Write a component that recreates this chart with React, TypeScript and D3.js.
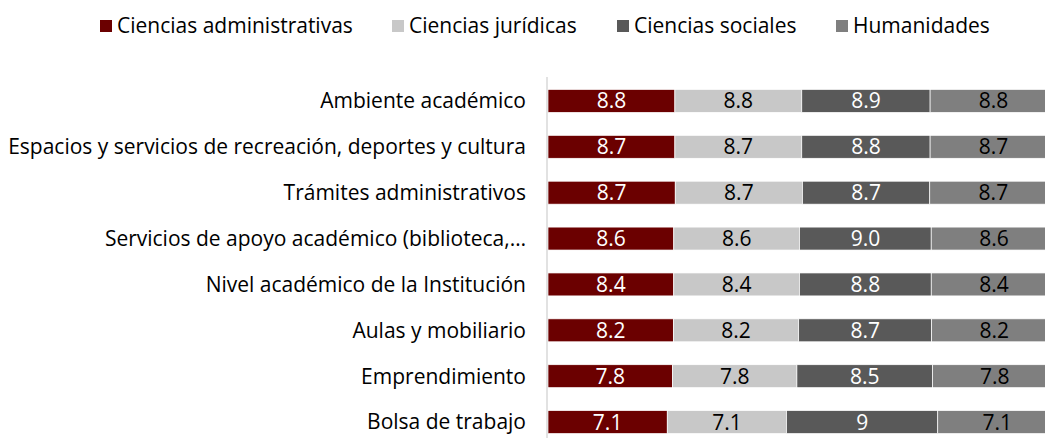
import React from "react";
import * as d3 from "d3";

const categories = [
  "Ambiente académico",
  "Espacios y servicios de recreación, deportes y cultura",
  "Trámites administrativos",
  "Servicios de apoyo académico (biblioteca,…",
  "Nivel académico de la Institución",
  "Aulas y mobiliario",
  "Emprendimiento",
  "Bolsa de trabajo",
];
const seriesNames = ["Ciencias administrativas", "Ciencias jurídicas", "Ciencias sociales", "Humanidades"];
const administrativas = ["8.8", "8.7", "8.7", "8.6", "8.4", "8.2", "7.8", "7.1"];
const juridicas = ["8.8", "8.7", "8.7", "8.6", "8.4", "8.2", "7.8", "7.1"];
const sociales = ["8.9", "8.8", "8.7", "9.0", "8.8", "8.7", "8.5", "9"];
const humanidades = ["8.8", "8.7", "8.7", "8.6", "8.4", "8.2", "7.8", "7.1"];
const colors = ["#6b0000", "#c8c8c8", "#595959", "#7f7f7f"];
const textColors = ["#ffffff", "#000000", "#ffffff", "#000000"];

const W = 1045;
const H = 438;
const FONT = "'Open Sans', sans-serif";

export default function App() {
  const labelsBySeries = [administrativas, juridicas, sociales, humanidades];
  const rows = categories.map((c, i) => {
    const o: any = { cat: c };
    seriesNames.forEach((s, j) => (o[s] = parseFloat(labelsBySeries[j][i])));
    return o;
  });
  const stack = d3.stack<any>().keys(seriesNames).offset(d3.stackOffsetExpand);
  const stacked = stack(rows);

  const x = d3.scaleLinear().domain([0, 1]).range([548, 1057]);
  const y = d3.scaleBand().domain(categories).range([78, 445]).paddingInner(0.5).paddingOuter(0.25);

  const legendX = [100, 392, 617, 836];

  return (
    <div style={{ position: "absolute", left: 0, top: 0 }}>
      <svg width={W} height={H} style={{ display: "block", background: "#fff" }}>
        {seriesNames.map((s, j) => (
          <g key={s}>
            <rect x={legendX[j]} y={20} width={12} height={12} fill={colors[j]} />
            <text x={legendX[j] + 17} y={26} dy="0.35em" fontFamily={FONT} fontSize={21} fill="#000">
              {s}
            </text>
          </g>
        ))}
        {stacked.map((layer, j) => (
          <g key={layer.key}>
            {layer.map((d, i) => {
              const x0 = x(d[0]);
              const x1 = x(d[1]);
              const yy = y(categories[i])!;
              return (
                <g key={i}>
                  <rect x={x0} y={yy} width={x1 - x0} height={y.bandwidth()} fill={colors[j]} stroke="#fff" strokeWidth={0.7} />
                  <text
                    x={(x0 + x1) / 2}
                    y={yy + y.bandwidth() / 2}
                    dy="0.36em"
                    textAnchor="middle"
                    fontFamily={FONT}
                    fontSize={21}
                    fill={textColors[j]}
                  >
                    {labelsBySeries[j][i]}
                  </text>
                </g>
              );
            })}
          </g>
        ))}
        <line x1={547} x2={547} y1={77} y2={438} stroke="#d9d9d9" strokeWidth={1.5} />
        {categories.map((c) => (
          <text
            key={c}
            x={526}
            y={y(c)! + y.bandwidth() / 2}
            dy="0.35em"
            textAnchor="end"
            fontFamily={FONT}
            fontSize={21}
            fill="#000"
          >
            {c}
          </text>
        ))}
      </svg>
    </div>
  );
}
